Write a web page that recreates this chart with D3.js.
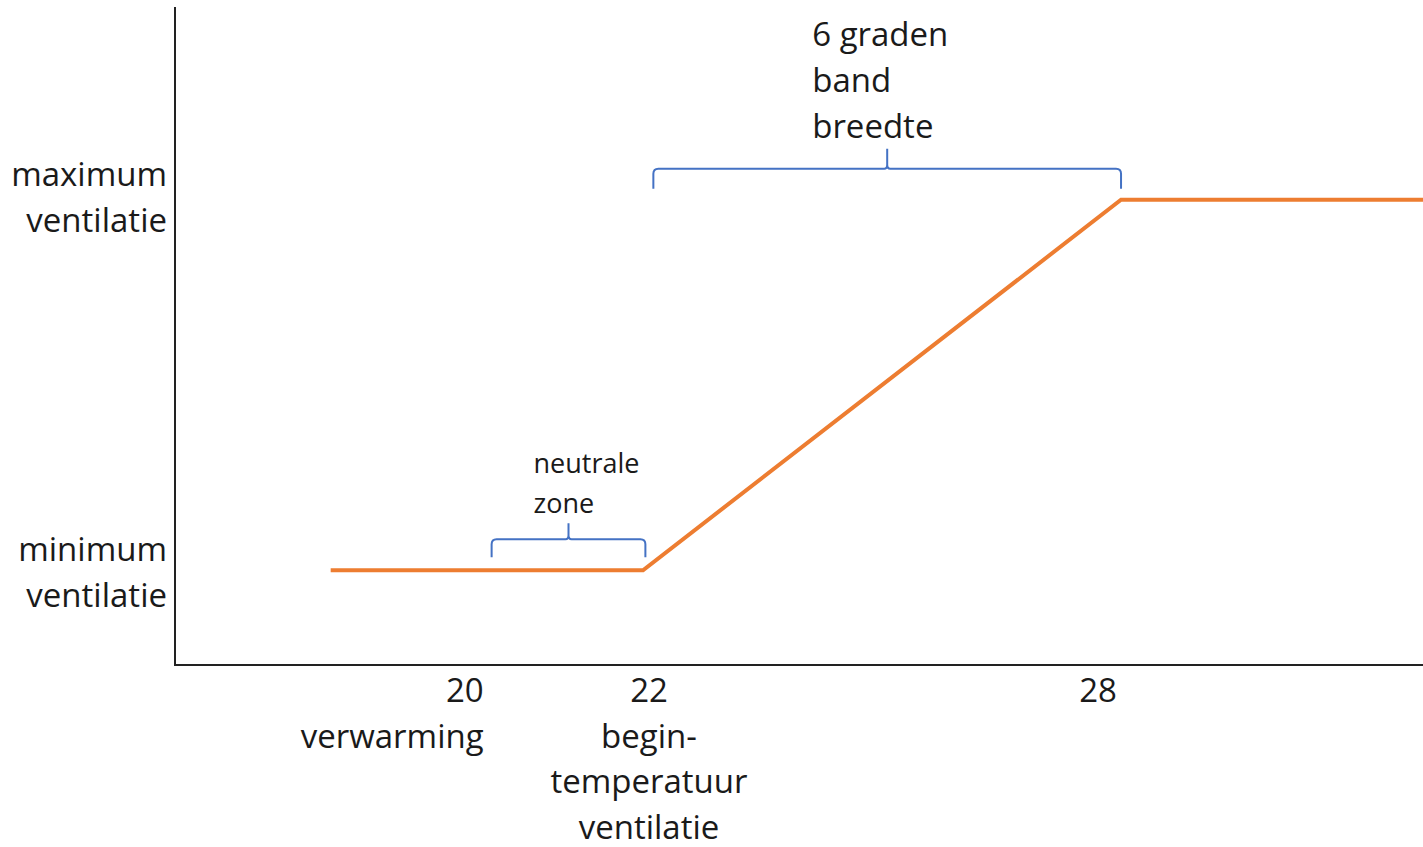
<!DOCTYPE html>
<html>
<head>
<meta charset="utf-8">
<script src="https://cdn.jsdelivr.net/npm/d3@7"></script>
<style>
  body { margin: 0; background: #fff; }
  svg text { font-family: "Open Sans", sans-serif; fill: #1a1a1a; }
</style>
</head>
<body>
<div id="chart"></div>
<script>
// ventilation curve: temperature (deg C) vs ventilation level (0-100)
var curveTemp  = [18.08, 22, 28, 31.8];
var curveVent  = [14.4, 14.4, 70.7, 70.7];

// x axis labels
var tickTemps  = [20, 22, 28];
var tickNames  = [["20", "verwarming"], ["22", "begin-", "temperatuur", "ventilatie"], ["28"]];

// y axis labels
var yLevels    = [70.7, 14.4];
var yNames     = [["maximum", "ventilatie"], ["minimum", "ventilatie"]];

// brace annotations
var braceFrom  = [20.1, 22.13];
var braceTo    = [22.03, 28];
var braceLevel = [14.4, 70.7];
var braceText  = [["neutrale", "zone"], ["6 graden", "band", "breedte"]];

var W = 1423, H = 847;
var margin = {top: 7, right: 0, bottom: 182, left: 175};
var width = W - margin.left - margin.right,
    height = H - margin.top - margin.bottom;

var x = d3.scaleLinear().domain([16.126, 31.79]).range([0, width]);
var y = d3.scaleLinear().domain([0, 100]).range([height, 0]);

var svg = d3.select("#chart").append("svg")
    .attr("width", W)
    .attr("height", H)
  .append("g")
    .attr("transform", "translate(" + margin.left + "," + margin.top + ")");

// axes (plain lines, no ticks)
svg.append("line")
  .attr("x1", 0).attr("x2", 0)
  .attr("y1", 0).attr("y2", height)
  .attr("stroke", "#222").attr("stroke-width", 2);
svg.append("line")
  .attr("x1", -1).attr("x2", width)
  .attr("y1", height).attr("y2", height)
  .attr("stroke", "#222").attr("stroke-width", 2);

// the curve
var pts = curveTemp.map(function(t, i) { return [t, curveVent[i]]; });
svg.append("path")
  .datum(pts)
  .attr("fill", "none")
  .attr("stroke", "#ED7D31")
  .attr("stroke-width", 4)
  .attr("d", d3.line().x(function(d) { return x(d[0]); }).y(function(d) { return y(d[1]); }));

// x labels, hand placed in the original so a small nudge per label
var tickAnchor = ["end", "middle", "middle"],
    tickNudge = [0, 6, -23];
tickTemps.forEach(function(t, i) {
  var txt = svg.append("text")
    .attr("x", x(t) + tickNudge[i])
    .attr("y", height + 37)
    .attr("text-anchor", tickAnchor[i])
    .style("font-size", "33px");
  tickNames[i].forEach(function(s, j) {
    txt.append("tspan")
      .attr("x", x(t) + tickNudge[i])
      .attr("dy", j === 0 ? 0 : 45.5)
      .text(s);
  });
});

// y labels
var yShift = [-14, -9];
yLevels.forEach(function(v, i) {
  var txt = svg.append("text")
    .attr("x", -8)
    .attr("y", y(v) + yShift[i])
    .attr("text-anchor", "end")
    .style("font-size", "33px");
  yNames[i].forEach(function(s, j) {
    txt.append("tspan").attr("x", -8).attr("dy", j === 0 ? 0 : 46).text(s);
  });
});

// curly braces
function brace(x0, x1, yb, h, tip) {
  var yh = yb - h, xm = (x0 + x1) / 2, r = 5;
  return "M" + x0 + "," + yb + "L" + x0 + "," + (yh + r) +
    "Q" + x0 + "," + yh + " " + (x0 + r) + "," + yh +
    "L" + (xm - 3) + "," + yh + "Q" + xm + "," + yh + " " + xm + "," + (yh - 4) +
    "L" + xm + "," + (yh - tip) +
    "M" + xm + "," + (yh - 4) + "Q" + xm + "," + yh + " " + (xm + 3) + "," + yh +
    "L" + (x1 - r) + "," + yh + "Q" + x1 + "," + yh + " " + x1 + "," + (yh + r) +
    "L" + x1 + "," + yb;
}
var braceGap = [13, 11], braceH = [18, 20], braceTip = [16, 20],
    textDx = [-35, -75], textSize = [27, 33], textStep = [40, 46], textGap = [10, 11];
braceFrom.forEach(function(a, i) {
  var yb = y(braceLevel[i]) - braceGap[i];
  svg.append("path")
    .attr("d", brace(x(a), x(braceTo[i]), yb, braceH[i], braceTip[i]))
    .attr("fill", "none")
    .attr("stroke", "#4472C4")
    .attr("stroke-width", 2);
  var xm = (x(a) + x(braceTo[i])) / 2;
  var n = braceText[i].length;
  var top = yb - braceH[i] - braceTip[i] - textGap[i] - (n - 1) * textStep[i];
  var txt = svg.append("text")
    .attr("x", xm + textDx[i])
    .attr("y", top)
    .style("font-size", textSize[i] + "px");
  braceText[i].forEach(function(s, j) {
    txt.append("tspan").attr("x", xm + textDx[i]).attr("dy", j === 0 ? 0 : textStep[i]).text(s);
  });
});
</script>
</body>
</html>
